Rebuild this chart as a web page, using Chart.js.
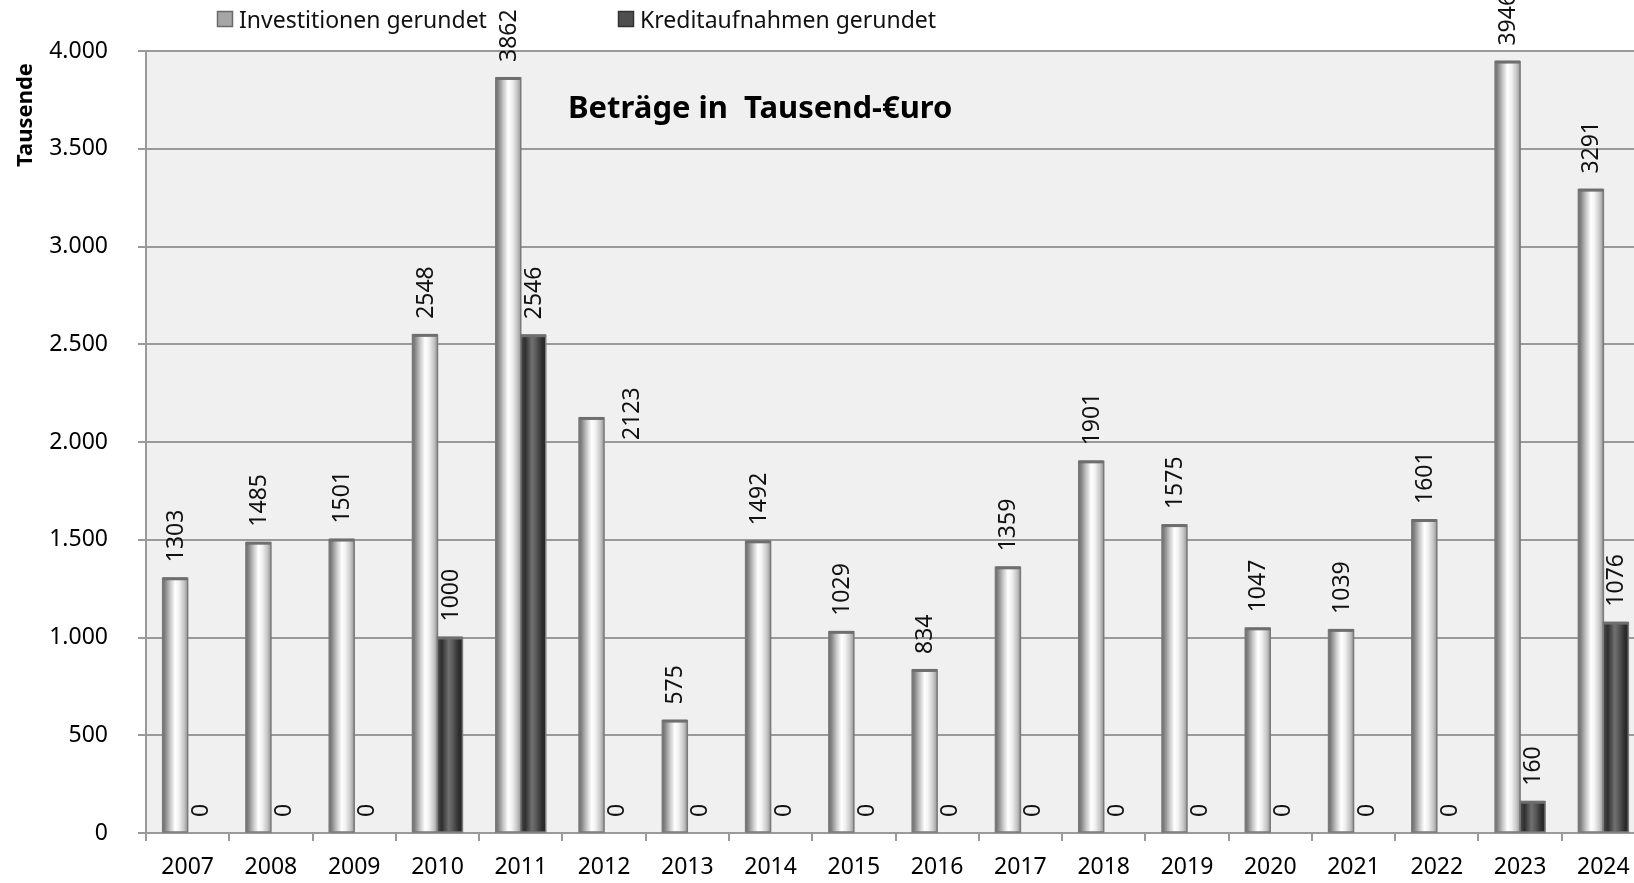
<!DOCTYPE html>
<html lang="de">
<head>
    <meta charset="UTF-8">
    <title>Investitionen und Kreditaufnahmen</title>
    <script src="https://cdn.jsdelivr.net/npm/chart.js"></script>
    <style>
        html, body { margin: 0; padding: 0; background: #fff; overflow: hidden; }
        canvas { display: block; }
    </style>
</head>
<body>
    <canvas id="chart" width="1660" height="883"></canvas>
    <script>
        // Werte in Tausend Euro
        const years = ['2007', '2008', '2009', '2010', '2011', '2012', '2013', '2014', '2015',
                       '2016', '2017', '2018', '2019', '2020', '2021', '2022', '2023', '2024'];
        const investitionen = [1303, 1485, 1501, 2548, 3862, 2123, 575, 1492, 1029,
                               834, 1359, 1901, 1575, 1047, 1039, 1601, 3946, 3291];
        const kredite = [0, 0, 0, 1000, 2546, 0, 0, 0, 0,
                         0, 0, 0, 0, 0, 0, 0, 160, 1076];
        const seriesNames = ['Investitionen gerundet', 'Kreditaufnahmen gerundet'];
        const chartTitle = 'Beträge in  Tausend-€uro';
        const yTitle = 'Tausende';

        const FONT = "'Noto Sans', sans-serif";
        const GRID = '#9a9a9a';

        // the 2012 label was moved by hand in the original
        const labelNudge = { '0-5': { dx: 40, dy: 38 } };

        // cylinder shading, left to right
        const shading = [
            [[0, '#6a6a6a'], [0.12, '#8a8a8a'], [0.3, '#c6c6c6'], [0.5, '#ffffff'],
             [0.65, '#f2f2f2'], [0.85, '#c8c8c8'], [1, '#979797']],
            [[0, '#4a4a4a'], [0.18, '#2f2f2f'], [0.45, '#707070'], [0.6, '#5c5c5c'],
             [0.85, '#2e2e2e'], [1, '#262626']]
        ];

        const fmt = v => String(v).replace(/\B(?=(\d{3})+(?!\d))/g, '.');

        const decor = {
            id: 'decor',
            beforeDraw(chart) {
                const { ctx, chartArea: a } = chart;
                ctx.save();
                ctx.fillStyle = '#f0f0f0';
                ctx.fillRect(a.left, a.top, a.right - a.left, a.bottom - a.top);
                ctx.restore();
            },
            afterDatasetsDraw(chart) {
                const ctx = chart.ctx;
                ctx.save();
                chart.data.datasets.forEach((ds, di) => {
                    const meta = chart.getDatasetMeta(di);
                    meta.data.forEach((bar, i) => {
                        const { x, y, base, width } = bar.getProps(['x', 'y', 'base', 'width'], true);
                        const l = x - width / 2;
                        if (base - y > 0.5) {
                            const g = ctx.createLinearGradient(l, 0, l + width, 0);
                            shading[di].forEach(s => g.addColorStop(s[0], s[1]));
                            ctx.fillStyle = g;
                            ctx.fillRect(l, y, width, base - y);
                            ctx.strokeStyle = '#7a7a7a';
                            ctx.lineWidth = 1.5;
                            ctx.strokeRect(l, y, width, base - y);
                            ctx.fillStyle = '#6e6e6e';
                            ctx.fillRect(l, y - 1, width, 3);
                        }
                        // value label, rotated
                        const n = labelNudge[di + '-' + i] || { dx: 0, dy: 0 };
                        ctx.save();
                        ctx.translate(x + n.dx, y - 16 + n.dy);
                        ctx.rotate(-Math.PI / 2);
                        ctx.font = '23px ' + FONT;
                        ctx.fillStyle = '#111';
                        ctx.textAlign = 'left';
                        ctx.textBaseline = 'middle';
                        ctx.fillText(String(ds.data[i]), 0, 1);
                        ctx.restore();
                    });
                });
                ctx.restore();
            },
            afterDraw(chart) {
                const ctx = chart.ctx;
                ctx.save();
                // legend
                const fills = [['#a6a6a6', '#6a6a6a'], ['#4f4f4f', '#333333']];
                const legendX = [217, 618];
                ctx.font = '23px ' + FONT;
                ctx.textBaseline = 'middle';
                ctx.textAlign = 'left';
                seriesNames.forEach((name, k) => {
                    ctx.fillStyle = fills[k][0];
                    ctx.fillRect(legendX[k], 11, 16, 16);
                    ctx.strokeStyle = fills[k][1];
                    ctx.lineWidth = 1.5;
                    ctx.strokeRect(legendX[k] + 0.5, 11.5, 15, 15);
                    ctx.fillStyle = '#111';
                    ctx.fillText(name, legendX[k] + 22, 21);
                });
                // inner title
                ctx.font = 'bold 31px ' + FONT;
                ctx.fillStyle = '#000';
                ctx.fillText(chartTitle, 568, 109);
                // y axis title
                ctx.translate(26, 115);
                ctx.rotate(-Math.PI / 2);
                ctx.textAlign = 'center';
                ctx.font = 'bold 22px ' + FONT;
                ctx.fillText(yTitle, 0, 0);
                ctx.restore();
            }
        };

        new Chart(document.getElementById('chart'), {
            type: 'bar',
            data: {
                labels: years,
                datasets: [
                    { label: seriesNames[0], data: investitionen, backgroundColor: '#d0d0d0', borderWidth: 0 },
                    { label: seriesNames[1], data: kredite, backgroundColor: '#444444', borderWidth: 0 }
                ]
            },
            options: {
                responsive: false,
                animation: false,
                devicePixelRatio: 1,
                layout: { padding: { top: 51, right: 15, left: 0, bottom: 0 } },
                datasets: { bar: { categoryPercentage: 0.6, barPercentage: 1.0 } },
                plugins: {
                    legend: { display: false },
                    title: { display: false },
                    tooltip: { enabled: false }
                },
                scales: {
                    x: {
                        grid: { offset: true, drawOnChartArea: false, color: GRID, lineWidth: 2, tickLength: 8 },
                        border: { color: GRID, width: 2 },
                        ticks: { color: '#000', font: { family: FONT, size: 23 }, padding: 13, maxRotation: 0 },
                        afterFit(s) { s.height = 50; }
                    },
                    y: {
                        min: 0,
                        max: 4000,
                        ticks: { stepSize: 500, color: '#000', font: { family: FONT, size: 23 }, padding: 30,
                                 callback: v => fmt(v) },
                        grid: { color: GRID, lineWidth: 2, tickLength: 8 },
                        border: { color: GRID, width: 2 },
                        afterFit(s) { s.width = 146; }
                    }
                }
            },
            plugins: [decor]
        });
    </script>
</body>
</html>
